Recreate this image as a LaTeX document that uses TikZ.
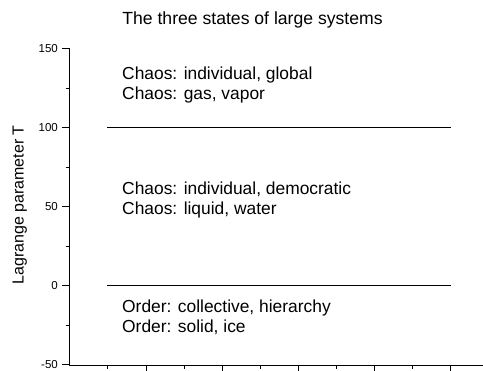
\documentclass[tikz,border=0pt]{standalone}
\usepackage{fontspec}
\setmainfont{Liberation Sans}
\begin{document}
\begin{tikzpicture}[x=1pt,y=1pt,
  axisline/.style={line width=1pt,black},
  levelline/.style={line width=1pt,black},
  ticklabel/.style={font=\fontsize{11.5}{13}\selectfont,anchor=east,inner sep=0pt},
  statetext/.style={font=\fontsize{17.4}{20}\selectfont,anchor=base west,inner sep=0pt},
  titletext/.style={font=\fontsize{17.6}{22}\selectfont,anchor=base,inner sep=0pt},
  axistitle/.style={font=\fontsize{16}{19}\selectfont,anchor=base,rotate=90,inner sep=0pt}]
\useasboundingbox (0,0) rectangle (483,371);
\clip (0,0) rectangle (483,371);

% axis corners
\coordinate (origin) at (69.5,5.5);
\coordinate (ytop) at (69.5,322);
\coordinate (xend) at (490,5.5);

% axes
\draw[axisline] (ytop) -- (origin) -- (xend);

% y ticks: major every 50, minor halfway between
\foreach \v/\lab in {-50/-50,0/0,50/50,100/100,150/150}{
  \coordinate (ym\v) at (69.5,{85+1.58*\v});
  \draw[axisline] (ym\v) -- ++(-7.5,0);
  \node[ticklabel] (yl\v) at ([xshift=-11.5pt]ym\v) {\lab};
}
\foreach \v in {-25,25,75,125}{
  \coordinate (yn\v) at (69.5,{85+1.58*\v});
  \draw[axisline] (yn\v) -- ++(-3.5,0);
}

% x ticks pointing down
\foreach \i in {0,1,2,3,4}{
  \coordinate (xm\i) at ({146+76.2*\i},5.5);
  \draw[axisline] (xm\i) -- ++(0,-8);
  \coordinate (xn\i) at ({107.8+76.2*\i},5.5);
  \draw[axisline] (xn\i) -- ++(0,-3.5);
}

% phase boundaries at T = 100 and T = 0
\coordinate (b1l) at (107.3,243);
\coordinate (b1r) at (451,243);
\coordinate (b0l) at (107.3,85);
\coordinate (b0r) at (451,85);
\draw[levelline] (b1l) -- (b1r);
\draw[levelline] (b0l) -- (b0r);

% title
\node[titletext] (title) at (252.5,346.5) {The three states of large systems};

% axis title
\node[axistitle] (ylabel) at (23.5,166) {Lagrange parameter T};

% state descriptions
\node[statetext] (gas1) at (122,291.9) {Chaos: individual, global};
\node[statetext] (gas2) at (122,271.9) {Chaos: gas, vapor};
\node[statetext] (liq1) at (122,176.9) {Chaos: individual, democratic};
\node[statetext] (liq2) at (122,156.9) {Chaos: liquid, water};
\node[statetext] (sol1) at (122,58) {Order: collective, hierarchy};
\node[statetext] (sol2) at (122,38) {Order: solid, ice};
\end{tikzpicture}
\end{document}
